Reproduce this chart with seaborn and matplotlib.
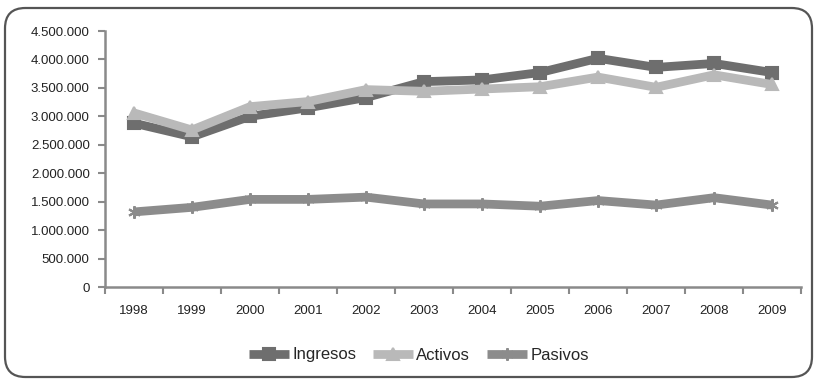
import matplotlib
matplotlib.use("Agg")
import matplotlib.pyplot as plt
from matplotlib.patches import FancyBboxPatch
from matplotlib.ticker import FuncFormatter, FixedLocator
import seaborn as sns
import pandas as pd
import numpy as np

years = ["1998", "1999", "2000", "2001", "2002", "2003",
         "2004", "2005", "2006", "2007", "2008", "2009"]
ingresos = [2880000, 2640000, 3000000, 3150000, 3330000, 3610000,
            3640000, 3770000, 4020000, 3860000, 3930000, 3770000]
activos = [3060000, 2760000, 3170000, 3260000, 3470000, 3440000,
           3480000, 3520000, 3690000, 3510000, 3730000, 3560000]
pasivos = [1320000, 1400000, 1540000, 1540000, 1580000, 1460000,
           1460000, 1420000, 1520000, 1440000, 1570000, 1440000]
series_names = ["Ingresos", "Activos", "Pasivos"]

colors = {"Ingresos": "#6e6e6e", "Activos": "#b9b9b9", "Pasivos": "#8c8c8c"}
markers = {"Ingresos": "s", "Activos": "^", "Pasivos": (6, 2, 0)}

df = pd.DataFrame({
    "pos": list(range(len(years))) * 3,
    "valor": ingresos + activos + pasivos,
    "serie": np.repeat(series_names, len(years)),
})

sns.set_style("white")
plt.rcParams["font.family"] = ["Liberation Sans", "DejaVu Sans"]

fig = plt.figure(figsize=(8.15, 3.81), dpi=100)
ax = fig.add_axes([105 / 815, 1 - 287 / 381, (801 - 105) / 815, (287 - 31) / 381])

for name in series_names:
    sub = df[df["serie"] == name]
    sns.lineplot(data=sub, x="pos", y="valor", ax=ax, color=colors[name],
                 linewidth=6.3, marker=markers[name], markersize=8.5,
                 markeredgecolor=colors[name], markeredgewidth=1.5,
                 solid_joinstyle="round", solid_capstyle="butt",
                 label=name, legend=False, zorder=3)

ax.set_xlim(-0.5, len(years) - 0.5)
ax.set_ylim(0, 4500000)
ax.set_yticks(np.arange(0, 4500001, 500000))
ax.yaxis.set_major_formatter(
    FuncFormatter(lambda v, p: f"{int(v):,}".replace(",", ".")))

# category boundaries carry the tick marks, centres carry the labels
ax.xaxis.set_major_locator(FixedLocator(np.arange(-0.5, len(years), 1.0)))
ax.xaxis.set_minor_locator(FixedLocator(np.arange(len(years))))
ax.set_xticklabels([], minor=False)
ax.set_xticklabels(years, minor=True)
ax.tick_params(axis="x", which="major", length=5, width=1.5, color="#8a8a8a",
               direction="out", bottom=True)
ax.tick_params(axis="x", which="minor", length=0, labelsize=9.5,
               labelcolor="#222222", pad=13)
ax.tick_params(axis="y", length=5, width=1.5, color="#8a8a8a",
               direction="out", left=True, labelsize=9.5,
               labelcolor="#222222", pad=6)
ax.set_xlabel("")
ax.set_ylabel("")

for side in ["top", "right"]:
    ax.spines[side].set_visible(False)
for side in ["left", "bottom"]:
    ax.spines[side].set_color("#8a8a8a")
    ax.spines[side].set_linewidth(1.8)

handles, labels = ax.get_legend_handles_labels()
for h in handles:
    h.set_markersize(9)
fig.legend(handles, labels, loc="center", bbox_to_anchor=(0.514, 1 - 355 / 381),
           ncol=3, frameon=False, fontsize=12, handlelength=2.4,
           handletextpad=0.2, columnspacing=1.0)

frame = FancyBboxPatch((5 / 815, 4 / 381), 807 / 815, 369 / 381,
                       boxstyle="round,pad=0,rounding_size=0.025",
                       transform=fig.transFigure, fill=False,
                       edgecolor="#555555", linewidth=1.6,
                       mutation_aspect=815 / 381)
fig.patches.append(frame)

fig.savefig("out.png", dpi=100)
